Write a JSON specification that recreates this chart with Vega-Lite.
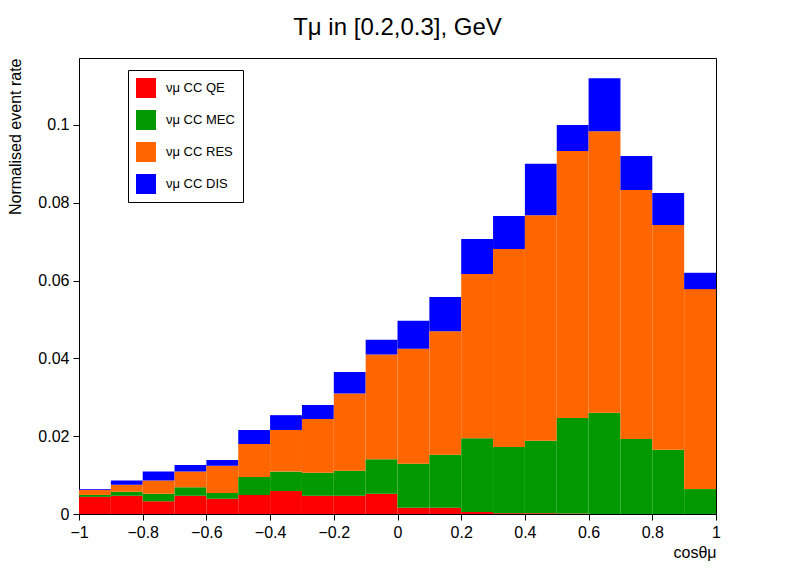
{
"$schema":"https://vega.github.io/schema/vega-lite/v6.json",
"width":637,"height":456,
"autosize":"none",
"padding":{"left":79,"top":58,"right":80,"bottom":58},
"title":{"text":"Tμ in [0.2,0.3], GeV","fontSize":24,"font":"Liberation Sans","fontWeight":"normal","offset":18,"color":"black"},
"config":{"view":{"stroke":"black","strokeWidth":1},"font":"Liberation Sans"},
"data":{"values":[
{"b":-1.0,"QE":0.0044,"MEC":0.0005,"RES":0.0013,"DIS":0.0002},
{"b":-0.9,"QE":0.0047,"MEC":0.0010,"RES":0.0018,"DIS":0.0011},
{"b":-0.8,"QE":0.0033,"MEC":0.0019,"RES":0.0034,"DIS":0.0023},
{"b":-0.7,"QE":0.0047,"MEC":0.0022,"RES":0.0040,"DIS":0.0017},
{"b":-0.6,"QE":0.0039,"MEC":0.0015,"RES":0.0070,"DIS":0.0015},
{"b":-0.5,"QE":0.0049,"MEC":0.0046,"RES":0.0085,"DIS":0.0036},
{"b":-0.4,"QE":0.0059,"MEC":0.0050,"RES":0.0107,"DIS":0.0038},
{"b":-0.3,"QE":0.0047,"MEC":0.0059,"RES":0.0138,"DIS":0.0036},
{"b":-0.2,"QE":0.0047,"MEC":0.0064,"RES":0.0199,"DIS":0.0055},
{"b":-0.1,"QE":0.0052,"MEC":0.0089,"RES":0.0269,"DIS":0.0038},
{"b":0.0,"QE":0.0016,"MEC":0.0113,"RES":0.0296,"DIS":0.0072},
{"b":0.1,"QE":0.0016,"MEC":0.0136,"RES":0.0318,"DIS":0.0088},
{"b":0.2,"QE":0.0005,"MEC":0.0190,"RES":0.0422,"DIS":0.0090},
{"b":0.3,"QE":0.0002,"MEC":0.0170,"RES":0.0509,"DIS":0.0085},
{"b":0.4,"QE":0.0002,"MEC":0.0186,"RES":0.0580,"DIS":0.0132},
{"b":0.5,"QE":0.0001,"MEC":0.0246,"RES":0.0686,"DIS":0.0067},
{"b":0.6,"QE":0.0,"MEC":0.0260,"RES":0.0724,"DIS":0.0136},
{"b":0.7,"QE":0.0,"MEC":0.0193,"RES":0.0640,"DIS":0.0087},
{"b":0.8,"QE":0.0,"MEC":0.0165,"RES":0.0578,"DIS":0.0082},
{"b":0.9,"QE":0.0,"MEC":0.0064,"RES":0.0514,"DIS":0.0042}
]},
"transform":[
{"fold":["QE","MEC","RES","DIS"],"as":["k","v"]},
{"lookup":"k","from":{"data":{"values":[
{"k":"QE","name":"νμ CC QE","ord":1},
{"k":"MEC","name":"νμ CC MEC","ord":2},
{"k":"RES","name":"νμ CC RES","ord":3},
{"k":"DIS","name":"νμ CC DIS","ord":4}]},"key":"k","fields":["name","ord"]}},
{"lookup":"b","from":{"data":{"values":[
{"b":-1.0,"e":-0.9},{"b":-0.9,"e":-0.8},{"b":-0.8,"e":-0.7},{"b":-0.7,"e":-0.6},{"b":-0.6,"e":-0.5},
{"b":-0.5,"e":-0.4},{"b":-0.4,"e":-0.3},{"b":-0.3,"e":-0.2},{"b":-0.2,"e":-0.1},{"b":-0.1,"e":0.0},
{"b":0.0,"e":0.1},{"b":0.1,"e":0.2},{"b":0.2,"e":0.3},{"b":0.3,"e":0.4},{"b":0.4,"e":0.5},
{"b":0.5,"e":0.6},{"b":0.6,"e":0.7},{"b":0.7,"e":0.8},{"b":0.8,"e":0.9},{"b":0.9,"e":1.0}]},"key":"b","fields":["e"]}},
{"stack":"v","groupby":["b"],"sort":[{"field":"ord","order":"ascending"}],"as":["y0","y1"]}
],
"mark":{"type":"rect","strokeWidth":0},
"encoding":{
"x":{"field":"b","type":"quantitative","scale":{"domain":[-1,1],"nice":false},
 "axis":{"title":"cosθμ","titleAnchor":"end","titleFontSize":16,"titleFontWeight":"normal","titlePadding":4,"titleColor":"black","values":[-1,-0.8,-0.6,-0.4,-0.2,0,0.2,0.4,0.6,0.8,1],"format":".1~f","labelFontSize":16,"labelColor":"black","tickSize":6,"labelPadding":4,"grid":false,"domainColor":"black","tickColor":"black","labelFlush":false}},
"x2":{"field":"e"},
"y":{"field":"y0","type":"quantitative","scale":{"domain":[0,0.1172],"nice":false},
 "axis":{"title":"Normalised event rate","titleAnchor":"end","titleFontSize":16,"titleFontWeight":"normal","titleColor":"black","titlePadding":14,"values":[0,0.02,0.04,0.06,0.08,0.1],"format":".2~f","labelFontSize":16,"labelColor":"black","tickSize":6,"labelPadding":4,"grid":false,"domainColor":"black","tickColor":"black"}},
"y2":{"field":"y1"},
"color":{"field":"name","type":"nominal",
 "scale":{"domain":["νμ CC QE","νμ CC MEC","νμ CC RES","νμ CC DIS"],"range":["#ff0000","#009900","#ff6600","#0000ff"]},
 "legend":{"title":null,"orient":"none","legendX":49,"legendY":12,"strokeColor":"black","fillColor":"white","padding":8,"symbolType":"square","symbolSize":400,"symbolStrokeWidth":0,"labelFontSize":13,"labelColor":"black","rowPadding":12,"labelOffset":10,"labelLimit":200,"symbolOpacity":1}}
}
}
